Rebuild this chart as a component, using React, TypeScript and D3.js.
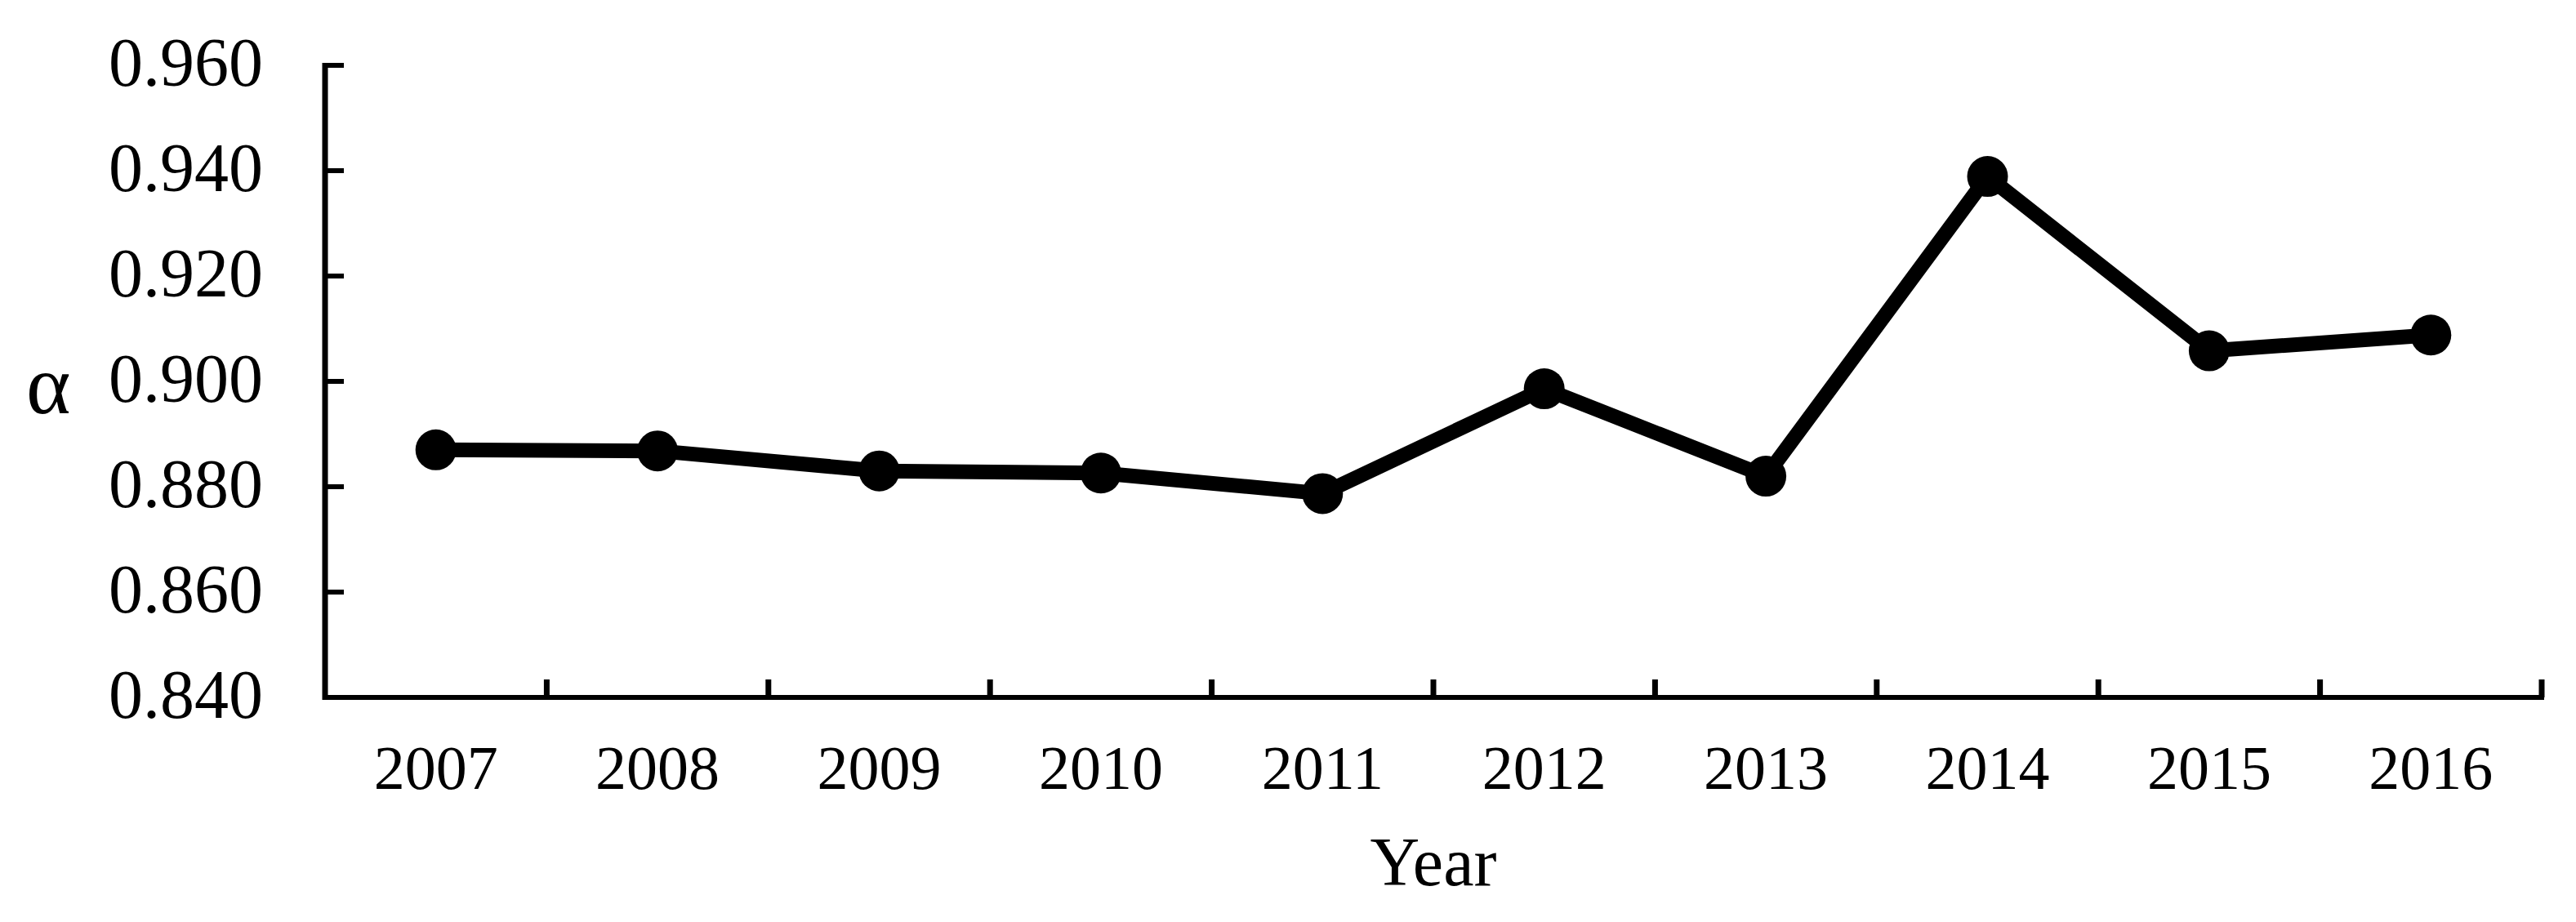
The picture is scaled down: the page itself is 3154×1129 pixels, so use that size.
import React from "react";
import * as d3 from "d3";

const years = ["2007", "2008", "2009", "2010", "2011", "2012", "2013", "2014", "2015", "2016"];
const alphaValues = [0.887, 0.8868, 0.883, 0.8826, 0.8787, 0.8986, 0.882, 0.9389, 0.9058, 0.9088];
const yTicks = [0.84, 0.86, 0.88, 0.9, 0.92, 0.94, 0.96];

const W = 3154;
const H = 1129;
const left = 398;
const right = 3112;
const top = 80;
const bottom = 854;
const font = "'Liberation Serif', 'Times New Roman', serif";

export default function App() {
  const x = d3.scaleBand<string>().domain(years).range([left, right]).padding(0);
  const y = d3.scaleLinear().domain([0.84, 0.96]).range([bottom, top]);
  const cx = (yr: string) => (x(yr) as number) + x.bandwidth() / 2;
  const pts: [number, number][] = years.map((yr, i) => [cx(yr), y(alphaValues[i])]);
  const line = d3.line()(pts) as string;

  return (
    <div style={{ position: "absolute", left: 0, top: 0 }}>
      <svg width={W} height={H} style={{ display: "block", background: "#fff" }}>
        <rect width={W} height={H} fill="#fff" />
        <line x1={left} y1={top - 3} x2={left} y2={bottom + 3} stroke="#000" strokeWidth={7} />
        <line x1={left} y1={bottom} x2={right + 3} y2={bottom} stroke="#000" strokeWidth={6} />
        {yTicks.map((t) => (
          <g key={t}>
            <line x1={left} x2={left + 23} y1={y(t)} y2={y(t)} stroke="#000" strokeWidth={6} />
            <text
              x={322}
              y={y(t) + 25}
              textAnchor="end"
              fontFamily={font}
              fontSize={84}
              fill="#000"
            >
              {d3.format(".3f")(t)}
            </text>
          </g>
        ))}
        {years.map((yr) => (
          <g key={yr}>
            <line
              x1={(x(yr) as number) + x.bandwidth()}
              x2={(x(yr) as number) + x.bandwidth()}
              y1={bottom}
              y2={bottom - 22}
              stroke="#000"
              strokeWidth={7}
            />
            <text x={cx(yr)} y={966} textAnchor="middle" fontFamily={font} fontSize={76} fill="#000">
              {yr}
            </text>
          </g>
        ))}
        <text x={(left + right) / 2} y={1084} textAnchor="middle" fontFamily={font} fontSize={84} fill="#000">
          Year
        </text>
        <text x={32} y={506} fontFamily={font} fontSize={104} fill="#000">
          α
        </text>
        <path d={line} fill="none" stroke="#000" strokeWidth={18} strokeLinejoin="miter" />
        {pts.map(([px, py], i) => (
          <circle key={years[i]} cx={px} cy={py} r={25} fill="#000" />
        ))}
      </svg>
    </div>
  );
}
